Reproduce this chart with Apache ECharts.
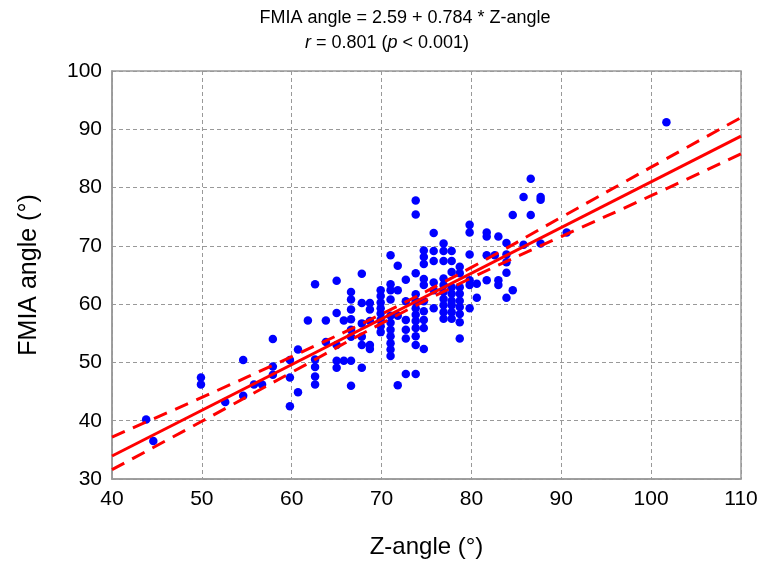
<!DOCTYPE html>
<html>
<head>
<meta charset="utf-8">
<script src="https://cdn.jsdelivr.net/npm/echarts@6/dist/echarts.min.js"></script>
<style>
  html, body { margin: 0; padding: 0; background: #fff; }
  #chart { width: 762px; height: 564px; }
</style>
</head>
<body>
<div id="chart"></div>
<script>
// Z-angle (°) of each patient, paired with fmiaAngle below
const zAngle = [
  43.8, 44.6, 49.9, 49.9, 52.6, 54.6, 54.6, 55.8, 56.7,
  57.9, 57.9, 57.9, 59.8, 59.8, 59.8, 60.7, 60.7, 61.8,
  62.6, 62.6, 62.6, 62.6, 62.6, 63.8, 63.8,
  65.0, 65.0, 65.0, 65.0, 65.0, 65.8, 65.8,
  66.6, 66.6, 66.6, 66.6, 66.6, 66.6, 66.6, 66.6,
  67.8, 67.8, 67.8, 67.8, 67.8, 67.8,
  68.7, 68.7, 68.7, 68.7, 68.7,
  69.9, 69.9, 69.9, 69.9, 69.9, 69.9, 69.9, 69.9,
  71.0, 71.0, 71.0, 71.0, 71.0, 71.0, 71.0, 71.0, 71.0, 71.0, 71.0,
  71.8, 71.8, 71.8, 71.8,
  72.7, 72.7, 72.7, 72.7, 72.7, 72.7,
  73.8, 73.8, 73.8, 73.8, 73.8, 73.8, 73.8, 73.8, 73.8, 73.8, 73.8, 73.8,
  74.7, 74.7, 74.7, 74.7, 74.7, 74.7, 74.7, 74.7, 74.7, 74.7,
  75.8, 75.8, 75.8, 75.8, 75.8, 75.8,
  76.9, 76.9, 76.9, 76.9, 76.9, 76.9, 76.9, 76.9, 76.9, 76.9,
  77.8, 77.8, 77.8, 77.8, 77.8, 77.8, 77.8, 77.8, 77.8,
  78.7, 78.7, 78.7, 78.7, 78.7, 78.7, 78.7, 78.7, 78.7,
  79.8, 79.8, 79.8, 79.8, 79.8, 79.8,
  80.6, 80.6, 81.7, 81.7, 81.7, 81.7, 82.6,
  83.0, 83.0, 83.0, 83.9, 83.9, 83.9, 83.9, 83.9,
  84.6, 84.6, 85.8, 85.8, 86.6, 86.6, 87.7, 87.7, 87.7,
  90.6, 101.7
];

// FMIA angle (°) of each patient
const fmiaAngle = [
  40.2, 36.5, 47.4, 46.2, 43.2, 50.4, 44.3, 46.2, 46.2,
  54.0, 49.3, 47.9, 50.4, 47.4, 42.5, 52.2, 44.9, 57.2,
  63.4, 50.5, 49.2, 47.6, 46.2, 57.2, 53.5,
  64.0, 58.5, 53.0, 50.3, 49.1, 57.2, 50.3,
  62.1, 60.8, 59.1, 57.4, 55.6, 54.4, 50.3, 46.0,
  65.2, 60.2, 56.7, 54.4, 53.0, 49.1,
  60.2, 59.1, 57.1, 53.0, 52.3,
  62.4, 61.4, 60.3, 59.3, 58.4, 57.3, 56.2, 55.2,
  68.4, 63.4, 62.4, 60.8, 58.0, 56.8, 55.6, 54.5, 53.3, 52.2, 51.1,
  66.6, 62.4, 58.0, 46.1,
  64.2, 60.5, 57.3, 55.6, 54.1, 48.0,
  77.8, 75.4, 65.3, 61.7, 60.5, 59.3, 58.2, 57.1, 55.9, 54.5, 53.0, 48.0,
  69.2, 68.1, 66.9, 64.3, 63.3, 60.5, 58.8, 57.3, 55.9, 52.3,
  72.2, 69.1, 67.4, 63.7, 62.4, 59.3,
  70.4, 69.1, 67.4, 64.4, 63.3, 62.1, 60.9, 59.8, 58.6, 57.5,
  69.1, 67.4, 65.5, 62.9, 61.8, 60.6, 59.8, 58.6, 57.5,
  66.4, 65.3, 62.9, 61.8, 60.6, 59.5, 58.3, 56.9, 54.1,
  73.6, 72.3, 68.5, 64.1, 63.3, 59.3,
  63.5, 61.1, 72.3, 71.6, 68.4, 64.1, 68.4,
  71.6, 64.1, 63.3, 70.5, 68.5, 67.2, 65.4, 61.1,
  75.3, 62.4, 78.4, 70.2, 81.5, 75.3, 78.4, 77.9, 70.4,
  72.3, 91.2
];

// Fitted regression: FMIA angle = 2.59 + 0.784 * Z-angle
const fitIntercept = 2.59;
const fitSlope = 0.784;
const fitRange = [40, 110];

// 95% confidence band around the fit, sampled along the Z-angle axis
const bandX     = [40,   50,   60,   70,   80,   90,   100,  110];
const bandUpper = [37.2, 44.0, 51.0, 58.3, 66.3, 74.9, 83.5, 92.0];
const bandLower = [31.6, 39.9, 48.3, 56.7, 64.5, 71.6, 78.6, 85.8];

// Axis ticks
const xTicks = [40, 50, 60, 70, 80, 90, 100, 110];
const yTicks = [30, 40, 50, 60, 70, 80, 90, 100];

const points = zAngle.map((z, i) => [z, fmiaAngle[i]]);
const fitLine = fitRange.map(x => [x, fitIntercept + fitSlope * x]);
const upperLine = bandX.map((x, i) => [x, bandUpper[i]]);
const lowerLine = bandX.map((x, i) => [x, bandLower[i]]);

const FONT = '"Liberation Sans", Arial, sans-serif';
const TITLE_FONT = '"Liberation Sans Narrow", "Liberation Sans", Arial, sans-serif';
const dashed = { type: [4, 3], color: '#999', width: 1 };

const chart = echarts.init(document.getElementById('chart'), null, { renderer: 'canvas' });
chart.setOption({
  backgroundColor: '#ffffff',
  animation: false,
  graphic: [
    {
      type: 'text', x: 405, y: 18,
      style: {
        text: 'FMIA angle = 2.59 + 0.784 * Z-angle',
        font: '18px ' + TITLE_FONT,
        fill: '#000', textAlign: 'center', textVerticalAlign: 'middle'
      }
    },
    {
      type: 'text', x: 387, y: 43,
      style: {
        text: '{i|r} = 0.801 ({i|p} < 0.001)',
        font: '18px ' + TITLE_FONT,
        fill: '#000', textAlign: 'center', textVerticalAlign: 'middle',
        rich: {
          i: { fontStyle: 'italic', fontSize: 18, fontFamily: TITLE_FONT }
        }
      }
    }
  ],
  grid: {
    left: 112, right: 21, top: 71, bottom: 84,
    show: true, borderColor: '#999', borderWidth: 1.5, backgroundColor: 'transparent'
  },
  xAxis: {
    type: 'value',
    min: xTicks[0], max: xTicks[xTicks.length - 1], interval: 10,
    name: 'Z-angle (°)', nameLocation: 'middle', nameGap: 56,
    nameTextStyle: { fontFamily: FONT, fontSize: 24, color: '#000' },
    axisLine: { show: true, lineStyle: { color: '#999', width: 1.5 } },
    axisTick: { show: false },
    axisLabel: { fontFamily: FONT, fontSize: 21, color: '#000', margin: 10 },
    splitLine: { show: true, lineStyle: dashed }
  },
  yAxis: {
    type: 'value',
    min: yTicks[0], max: yTicks[yTicks.length - 1], interval: 10,
    name: 'FMIA angle (°)', nameLocation: 'middle', nameGap: 70, nameRotate: 90,
    nameTextStyle: { fontFamily: FONT, fontSize: 25, color: '#000' },
    axisLine: { show: true, lineStyle: { color: '#999', width: 1.5 } },
    axisTick: { show: false },
    axisLabel: { fontFamily: FONT, fontSize: 21, color: '#000', margin: 10 },
    splitLine: { show: true, lineStyle: dashed }
  },
  series: [
    {
      type: 'scatter',
      data: points,
      symbol: 'circle',
      symbolSize: 8.5,
      itemStyle: { color: '#0000ff', opacity: 1 },
      z: 2
    },
    {
      type: 'line',
      data: fitLine,
      showSymbol: false,
      lineStyle: { color: '#ff0000', width: 3 },
      z: 3
    },
    {
      type: 'line',
      data: upperLine,
      smooth: 0.4,
      showSymbol: false,
      lineStyle: { color: '#ff0000', width: 3, type: [14, 9] },
      z: 3
    },
    {
      type: 'line',
      data: lowerLine,
      smooth: 0.4,
      showSymbol: false,
      lineStyle: { color: '#ff0000', width: 3, type: [14, 9] },
      z: 3
    }
  ]
});
</script>
</body>
</html>
